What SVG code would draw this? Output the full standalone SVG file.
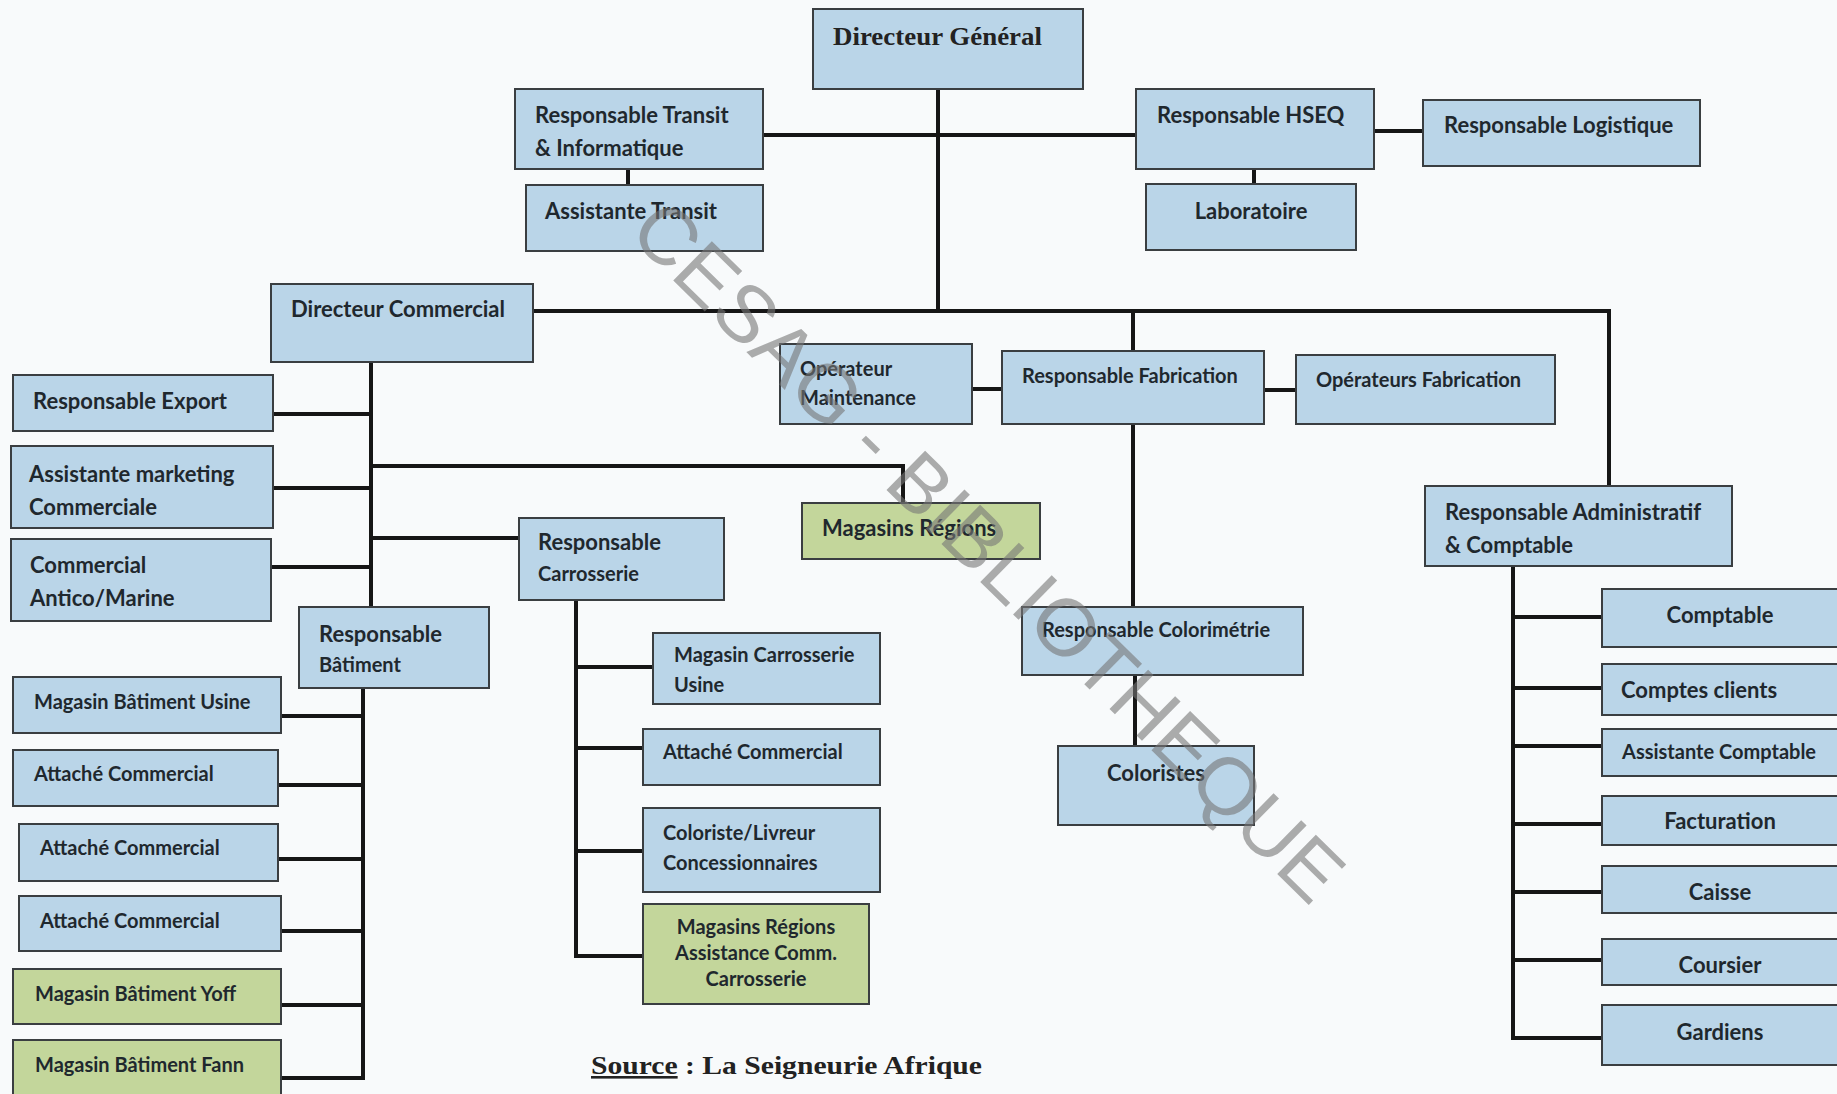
<svg xmlns="http://www.w3.org/2000/svg" width="1837" height="1094" viewBox="0 0 1837 1094">
<style>
.bg{fill:#f8fafb}
.box{fill:#bad5e8;stroke:#3a3e41;stroke-width:2}
.grn{fill:#c3d69b}
.conn path{stroke:#161616;stroke-width:4;fill:none;stroke-linecap:square}
text{font-family:Lato,"Liberation Sans",sans-serif;font-weight:700;fill:#1f282e}
.l{font-size:22px}
.s{font-size:20px}
.x{font-size:20px}
.c{text-anchor:middle}
.serif{font-family:"Liberation Serif",serif;font-weight:700;fill:#222}
.wm{font-family:"Liberation Sans",sans-serif;font-weight:400;font-size:80px;fill:#767676;fill-opacity:0.6}
</style>
<rect class="bg" x="0" y="0" width="1837" height="1094"/>

<g id="connectors" class="conn">
<path d="M938 89V311"/>
<path d="M763 135H1136"/>
<path d="M628 169V185"/>
<path d="M1254 169V184"/>
<path d="M1374 131H1423"/>
<path d="M533 311H1609V486"/>
<path d="M1133 311V351"/>
<path d="M1133 424V607"/>
<path d="M972 389H1002"/>
<path d="M1264 390H1296"/>
<path d="M1135 676V746"/>
<path d="M1513 566V1038"/>
<path d="M1513 617H1602M1513 688H1602M1513 746H1602M1513 824H1602M1513 892H1602M1513 960H1602M1513 1038H1602"/>
<path d="M371 362V607"/>
<path d="M273 414H371M273 488H371M271 567H371"/>
<path d="M371 466H903V503"/>
<path d="M371 538H519"/>
<path d="M363 690V1078"/>
<path d="M281 716H363M278 785H363M278 859H363M281 931H363M281 1005H363M281 1078H363"/>
<path d="M576 600V956"/>
<path d="M576 667H653M576 748H643M576 851H643M576 956H643"/>
</g>

<g id="n-dg"><rect class="box" x="813" y="9" width="270" height="80"/><text class="serif" x="833" y="45" font-size="26" textLength="209" lengthAdjust="spacingAndGlyphs">Directeur Général</text></g>
<g id="n-transit"><rect class="box" x="515" y="89" width="248" height="80"/><text class="l" x="535" y="123">Responsable Transit</text><text class="l" x="535" y="156">&amp; Informatique</text></g>
<g id="n-asst-transit"><rect class="box" x="526" y="185" width="237" height="66"/><text class="l" x="545" y="219">Assistante Transit</text></g>
<g id="n-hseq"><rect class="box" x="1136" y="89" width="238" height="80"/><text class="l" x="1157" y="123">Responsable HSEQ</text></g>
<g id="n-logistique"><rect class="box" x="1423" y="100" width="277" height="66"/><text class="l" x="1444" y="133">Responsable Logistique</text></g>
<g id="n-labo"><rect class="box" x="1146" y="184" width="210" height="66"/><text class="l c" x="1251" y="219">Laboratoire</text></g>

<g id="n-dir-com"><rect class="box" x="271" y="284" width="262" height="78"/><text class="l" x="291" y="317">Directeur Commercial</text></g>
<g id="n-export"><rect class="box" x="13" y="375" width="260" height="56"/><text class="l" x="33" y="409">Responsable Export</text></g>
<g id="n-mkt"><rect class="box" x="11" y="446" width="262" height="82"/><text class="l" x="29" y="482">Assistante marketing</text><text class="l" x="29" y="515">Commerciale</text></g>
<g id="n-antico"><rect class="box" x="11" y="539" width="260" height="82"/><text class="l" x="30" y="573">Commercial</text><text class="l" x="30" y="606">Antico/Marine</text></g>
<g id="n-resp-bat"><rect class="box" x="299" y="607" width="190" height="81"/><text class="l" x="319" y="642">Responsable</text><text class="s" x="319" y="672">Bâtiment</text></g>
<g id="n-mag-bat-usine"><rect class="box" x="13" y="677" width="268" height="56"/><text class="s" x="34" y="709">Magasin Bâtiment Usine</text></g>
<g id="n-att-1"><rect class="box" x="13" y="750" width="265" height="56"/><text class="s" x="34" y="781">Attaché Commercial</text></g>
<g id="n-att-2"><rect class="box" x="19" y="824" width="259" height="57"/><text class="s" x="40" y="855">Attaché Commercial</text></g>
<g id="n-att-3"><rect class="box" x="19" y="896" width="262" height="55"/><text class="s" x="40" y="928">Attaché Commercial</text></g>
<g id="n-mag-yoff"><rect class="box grn" x="13" y="969" width="268" height="55"/><text class="s" x="35" y="1001">Magasin Bâtiment Yoff</text></g>
<g id="n-mag-fann"><rect class="box grn" x="13" y="1040" width="268" height="62"/><text class="s" x="35" y="1072">Magasin Bâtiment Fann</text></g>

<g id="n-resp-carr"><rect class="box" x="519" y="518" width="205" height="82"/><text class="l" x="538" y="550">Responsable</text><text class="s" x="538" y="581">Carrosserie</text></g>
<g id="n-mag-regions"><rect class="box grn" x="802" y="503" width="238" height="56"/><text class="l" x="822" y="536">Magasins Régions</text></g>
<g id="n-mag-carr-usine"><rect class="box" x="653" y="633" width="227" height="71"/><text class="s" x="674" y="662">Magasin Carrosserie</text><text class="s" x="674" y="692">Usine</text></g>
<g id="n-att-carr"><rect class="box" x="643" y="729" width="237" height="56"/><text class="s" x="663" y="759">Attaché Commercial</text></g>
<g id="n-coloriste-livreur"><rect class="box" x="643" y="808" width="237" height="84"/><text class="s" x="663" y="840">Coloriste/Livreur</text><text class="s" x="663" y="870">Concessionnaires</text></g>
<g id="n-mag-reg-assist"><rect class="box grn" x="643" y="904" width="226" height="100"/><text class="x c" x="756" y="934">Magasins Régions</text><text class="x c" x="756" y="960">Assistance Comm.</text><text class="x c" x="756" y="986">Carrosserie</text></g>

<g id="n-op-maint"><rect class="box" x="780" y="344" width="192" height="80"/><text class="s" x="800" y="376">Opérateur</text><text class="s" x="800" y="405">Maintenance</text></g>
<g id="n-resp-fab"><rect class="box" x="1002" y="351" width="262" height="73"/><text class="s" x="1022" y="383">Responsable Fabrication</text></g>
<g id="n-op-fab"><rect class="box" x="1296" y="355" width="259" height="69"/><text class="s" x="1316" y="387">Opérateurs Fabrication</text></g>
<g id="n-colorimetrie"><rect class="box" x="1022" y="607" width="281" height="68"/><text class="s" x="1042" y="637">Responsable Colorimétrie</text></g>
<g id="n-coloristes"><rect class="box" x="1058" y="746" width="196" height="79"/><text class="l c" x="1156" y="781">Coloristes</text></g>

<g id="n-admin"><rect class="box" x="1425" y="486" width="307" height="80"/><text class="l" x="1445" y="520">Responsable Administratif</text><text class="l" x="1445" y="553">&amp; Comptable</text></g>
<g id="n-comptable"><rect class="box" x="1602" y="589" width="245" height="58"/><text class="l c" x="1720" y="623">Comptable</text></g>
<g id="n-comptes-clients"><rect class="box" x="1602" y="664" width="245" height="51"/><text class="l" x="1621" y="698">Comptes clients</text></g>
<g id="n-assist-compt"><rect class="box" x="1602" y="729" width="245" height="47"/><text class="s" x="1622" y="759">Assistante Comptable</text></g>
<g id="n-facturation"><rect class="box" x="1602" y="796" width="245" height="49"/><text class="l c" x="1720" y="829">Facturation</text></g>
<g id="n-caisse"><rect class="box" x="1602" y="866" width="245" height="47"/><text class="l c" x="1720" y="900">Caisse</text></g>
<g id="n-coursier"><rect class="box" x="1602" y="939" width="245" height="46"/><text class="l c" x="1720" y="973">Coursier</text></g>
<g id="n-gardiens"><rect class="box" x="1602" y="1005" width="245" height="60"/><text class="l c" x="1720" y="1040">Gardiens</text></g>

<text class="serif" x="591" y="1074" font-size="26" textLength="391" lengthAdjust="spacingAndGlyphs"><tspan text-decoration="underline">Source</tspan> : La Seigneurie Afrique</text>

<text class="wm" x="0" y="0" text-anchor="middle" textLength="960" lengthAdjust="spacingAndGlyphs" transform="translate(969 571) rotate(44.5)">CESAG - BIBLIOTHEQUE</text>
</svg>
